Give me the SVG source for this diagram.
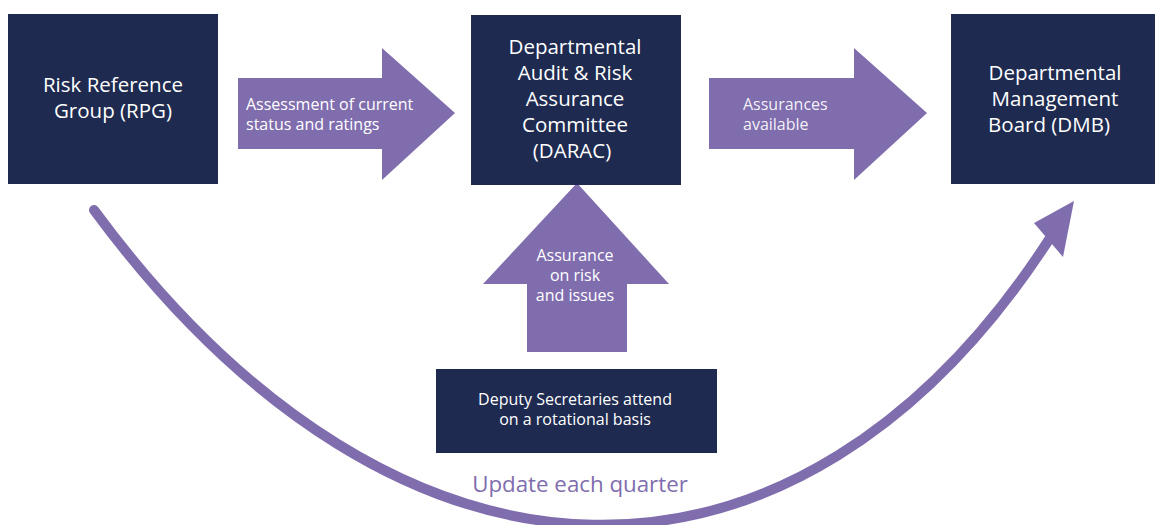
<svg xmlns="http://www.w3.org/2000/svg" width="1155" height="525" viewBox="0 0 1155 525">
<style>
.box{fill:#1E2A4F}
.arr{fill:#806DAE}
.t{font-family:"Open Sans","Noto Sans","Liberation Sans",sans-serif;fill:#FFFFFF}
.big{font-size:20.5px}
.sm{font-size:16px}
.mid{text-anchor:middle}
.curve{fill:none;stroke:#806DAE;stroke-width:10;stroke-linecap:round}
.lbl{font-family:"Open Sans","Noto Sans","Liberation Sans",sans-serif;fill:#806DAE;font-size:22.3px;text-anchor:middle}
</style>
<rect width="1155" height="525" fill="#FFFFFF"/>
<g id="connectors">
  <g id="arrow-rpg-darac">
    <polygon class="arr" points="238,78 382,78 382,48 455,113 382,180 382,149 238,149"/>
    <text class="t sm" x="246" y="110">Assessment of current</text>
    <text class="t sm" x="246" y="130">status and ratings</text>
  </g>
  <g id="arrow-darac-dmb">
    <polygon class="arr" points="709,78 854,78 854,48 927,113 854,180 854,149 709,149"/>
    <text class="t sm" x="743" y="110" fill-opacity="0.92">Assurances</text>
    <text class="t sm" x="743" y="130" fill-opacity="0.92">available</text>
  </g>
  <g id="arrow-deputy-darac">
    <polygon class="arr" points="577,183 669,284 627,284 627,352 527,352 527,284 483,284"/>
    <text class="t sm mid" x="575" y="261">Assurance</text>
    <text class="t sm mid" x="575" y="281">on risk</text>
    <text class="t sm mid" x="575" y="301">and issues</text>
  </g>
  <g id="arrow-rpg-dmb">
    <path class="curve" d="M94,210 C400,625 800,625 1050,238"/>
    <polygon class="arr" points="1074,201 1034,223 1063,257"/>
    <text class="lbl" x="580" y="492">Update each quarter</text>
  </g>
</g>
<g id="node-rpg">
  <rect class="box" x="8" y="14" width="210" height="170"/>
  <text class="t big mid" x="113" y="92">Risk Reference</text>
  <text class="t big mid" x="113" y="118">Group (RPG)</text>
</g>
<g id="node-darac">
  <rect class="box" x="471" y="15" width="210" height="170"/>
  <text class="t big mid" x="575" y="54">Departmental</text>
  <text class="t big mid" x="575" y="80">Audit &amp; Risk</text>
  <text class="t big mid" x="575" y="106">Assurance</text>
  <text class="t big mid" x="575" y="132">Committee</text>
  <text class="t big mid" x="572" y="158">(DARAC)</text>
</g>
<g id="node-dmb">
  <rect class="box" x="951" y="14" width="204" height="170"/>
  <text class="t big mid" x="1055" y="80">Departmental</text>
  <text class="t big mid" x="1055" y="106">Management</text>
  <text class="t big mid" x="1049" y="132">Board (DMB)</text>
</g>
<g id="node-deputy">
  <rect class="box" x="436" y="369" width="281" height="84"/>
  <text class="t sm mid" x="575" y="405">Deputy Secretaries attend</text>
  <text class="t sm mid" x="575" y="425">on a rotational basis</text>
</g>
</svg>
